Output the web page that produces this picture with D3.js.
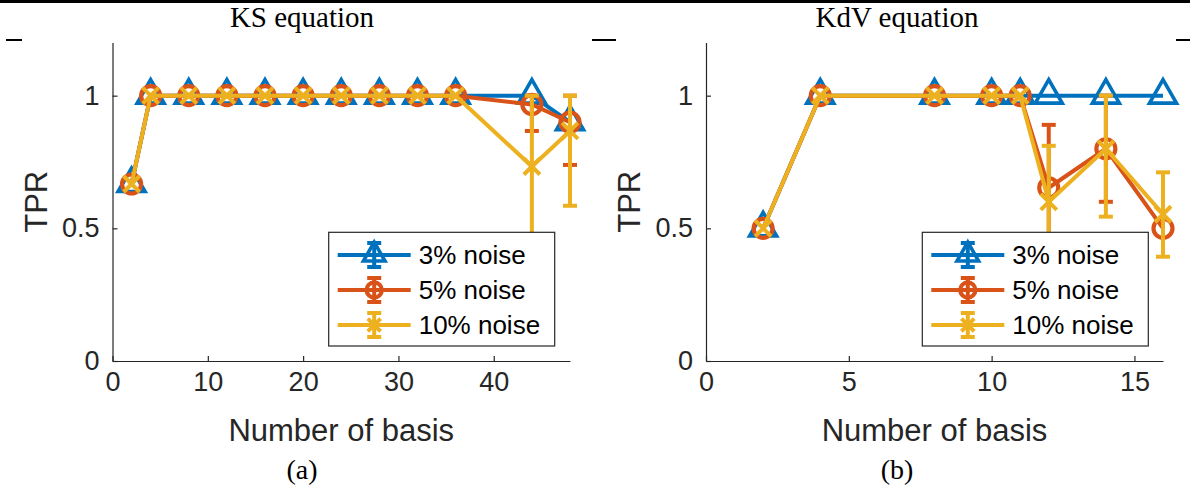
<!DOCTYPE html>
<html>
<head>
<meta charset="utf-8">
<script src="https://cdn.jsdelivr.net/npm/d3@7"></script>
<style>
  body { margin: 0; background: #fff; }
  svg { display: block; }
  .tick-label { font-family: 'Liberation Sans', Arial, Helvetica, sans-serif; font-size: 27px; fill: #262626; }
  .axis-label { font-family: 'Liberation Sans', Arial, Helvetica, sans-serif; font-size: 31px; fill: #262626; }
  .legend-label { font-family: 'Liberation Sans', Arial, Helvetica, sans-serif; font-size: 26px; fill: #000; }
  .serif { font-family: 'Liberation Serif', 'Times New Roman', serif; fill: #000; }
</style>
</head>
<body>
<div id="chart"></div>
<script>
// KS equation panel
const ksBasis = [2, 4, 8, 12, 16, 20, 24, 28, 32, 36, 44, 48];
const ksTpr3 = [0.667, 1, 1, 1, 1, 1, 1, 1, 1, 1, 1, 0.9];
const ksTpr5 = [0.667, 1, 1, 1, 1, 1, 1, 1, 1, 1, 0.967, 0.9];
const ksTpr10 = [0.667, 1, 1, 1, 1, 1, 1, 1, 1, 1, 0.733, 0.867];
const ksLow5 = [0.667, 1, 1, 1, 1, 1, 1, 1, 1, 1, 0.867, 0.739];
const ksHigh5 = [0.667, 1, 1, 1, 1, 1, 1, 1, 1, 1, 1, 1];
const ksLow10 = [0.667, 1, 1, 1, 1, 1, 1, 1, 1, 1, 0.46, 0.585];
const ksHigh10 = [0.667, 1, 1, 1, 1, 1, 1, 1, 1, 1, 1, 1];
const ksTicks = [0, 10, 20, 30, 40];

// KdV equation panel
const kdvBasis = [2, 4, 8, 10, 11, 12, 14, 16];
const kdvTpr3 = [0.5, 1, 1, 1, 1, 1, 1, 1];
const kdvTpr5 = [0.5, 1, 1, 1, 1, 0.653, 0.8, 0.5];
const kdvTpr10 = [0.5, 1, 1, 1, 1, 0.6, 0.8, 0.553];
const kdvLow5 = [0.5, 1, 1, 1, 1, 0.416, 0.6, 0.5];
const kdvHigh5 = [0.5, 1, 1, 1, 1, 0.89, 1, 0.5];
const kdvLow10 = [0.5, 1, 1, 1, 1, 0.389, 0.544, 0.393];
const kdvHigh10 = [0.5, 1, 1, 1, 1, 0.811, 1, 0.711];
const kdvTicks = [0, 5, 10, 15];

const yTicks = [0, 0.5, 1];
const seriesNames = ["3% noise", "5% noise", "10% noise"];
const seriesColors = ["#0072BD", "#D95319", "#EDB120"];
const seriesMarkers = ["triangle", "circle", "cross"];

const width = 1190;
const height = 486;
const axisColor = "#262626";
const lw = 4;

const svg = d3.select("#chart").append("svg")
    .attr("width", width)
    .attr("height", height);

// table rules from the surrounding document
svg.append("rect").attr("x", 0).attr("y", 0).attr("width", width).attr("height", 3).attr("fill", "#000");
[[6, 22], [592, 616], [1176, 1190]].forEach(([a, b]) => {
    svg.append("line").attr("x1", a).attr("x2", b).attr("y1", 40).attr("y2", 40)
        .attr("stroke", "#000").attr("stroke-width", 2);
});

function drawMarker(g, type, color, scale) {
    const s = scale || 1;
    if (type === "triangle") {
        g.append("path")
            .attr("d", `M0,${-16 * s}L${13.5 * s},${7.5 * s}L${-13.5 * s},${7.5 * s}Z`)
            .attr("fill", "none").attr("stroke", color).attr("stroke-width", 3.6)
            .attr("stroke-linejoin", "miter");
    } else if (type === "circle") {
        g.append("circle").attr("r", 9.5 * s)
            .attr("fill", "none").attr("stroke", color).attr("stroke-width", 4.2);
    } else {
        g.append("path")
            .attr("d", `M${-8 * s},${-8 * s}L${8 * s},${8 * s}M${-8 * s},${8 * s}L${8 * s},${-8 * s}`)
            .attr("fill", "none").attr("stroke", color).attr("stroke-width", 4);
    }
}

function drawPanel(p) {
    const x = d3.scaleLinear().domain(p.xDomain).range([p.left, p.right]);
    const y = d3.scaleLinear().domain([0, 1.2]).range([361, 42.6]);
    const g = svg.append("g");

    // axes (left and bottom only, ticks pointing inward)
    const xAxis = g.append("g").attr("transform", `translate(0,${y(0)})`)
        .call(d3.axisBottom(x).tickValues(p.ticks).tickSize(-5).tickPadding(11).tickSizeOuter(0));
    const yAxis = g.append("g").attr("transform", `translate(${x(0)},0)`)
        .call(d3.axisLeft(y).tickValues(yTicks).tickSize(-5).tickPadding(13).tickSizeOuter(0)
            .tickFormat(d => d === 0.5 ? "0.5" : d3.format("d")(d)));
    [xAxis, yAxis].forEach(a => {
        a.select(".domain").attr("stroke", axisColor).attr("stroke-width", 1.2);
        a.selectAll(".tick line").attr("stroke", axisColor).attr("stroke-width", 1.2);
        a.selectAll(".tick text").attr("class", "tick-label").attr("fill", null);
    });
    xAxis.selectAll(".tick text").attr("dy", "0.71em");

    g.append("text").attr("class", "axis-label")
        .attr("x", (p.left + p.right) / 2).attr("y", 441)
        .attr("text-anchor", "middle").text("Number of basis");
    g.append("text").attr("class", "axis-label")
        .attr("transform", `translate(${p.left - 66},${(y(0) + y(1.2)) / 2}) rotate(-90)`)
        .attr("text-anchor", "middle").text("TPR");

    g.append("text").attr("class", "serif").attr("font-size", 29)
        .attr("x", p.center).attr("y", 27).attr("text-anchor", "middle").text(p.title);
    g.append("text").attr("class", "serif").attr("font-size", 28)
        .attr("x", p.center).attr("y", 479).attr("text-anchor", "middle").text(p.caption);

    const line = d3.line().x(d => x(d.b)).y(d => y(d.v));

    p.series.forEach((s, i) => {
        const pts = p.basis.map((b, k) => ({ b, v: s.values[k], lo: s.low ? s.low[k] : s.values[k], hi: s.high ? s.high[k] : s.values[k] }));
        const sg = g.append("g");
        sg.append("path").datum(pts).attr("d", line)
            .attr("fill", "none").attr("stroke", seriesColors[i]).attr("stroke-width", lw)
            .attr("stroke-linejoin", "round");
        // error bars
        pts.filter(d => d.hi - d.lo > 0.001).forEach(d => {
            const eb = sg.append("g").attr("stroke", seriesColors[i]).attr("stroke-width", lw);
            eb.append("line").attr("x1", x(d.b)).attr("x2", x(d.b)).attr("y1", y(d.lo)).attr("y2", y(d.hi));
            [d.lo, d.hi].forEach(v => {
                eb.append("line").attr("x1", x(d.b) - 7).attr("x2", x(d.b) + 7).attr("y1", y(v)).attr("y2", y(v));
            });
        });
        pts.forEach(d => {
            const mg = sg.append("g").attr("transform", `translate(${x(d.b)},${y(d.v)})`);
            drawMarker(mg, seriesMarkers[i], seriesColors[i], 1);
        });
    });

    // legend
    const lx = p.legendX, ly = 232.3;
    const lg = g.append("g");
    lg.append("rect").attr("x", lx).attr("y", ly).attr("width", 226).attr("height", 113.7)
        .attr("fill", "#fff").attr("stroke", axisColor).attr("stroke-width", 1.2);
    seriesNames.forEach((name, i) => {
        const cy = 255 + i * 35;
        const row = lg.append("g");
        row.append("line").attr("x1", lx + 9).attr("x2", lx + 82).attr("y1", cy).attr("y2", cy)
            .attr("stroke", seriesColors[i]).attr("stroke-width", lw);
        const mx = lx + 45.5;
        row.append("line").attr("x1", mx).attr("x2", mx).attr("y1", cy - 12).attr("y2", cy + 12)
            .attr("stroke", seriesColors[i]).attr("stroke-width", lw);
        [cy - 12, cy + 12].forEach(v => {
            row.append("line").attr("x1", mx - 7).attr("x2", mx + 7).attr("y1", v).attr("y2", v)
                .attr("stroke", seriesColors[i]).attr("stroke-width", lw);
        });
        drawMarker(row.append("g").attr("transform", `translate(${mx},${cy})`), seriesMarkers[i], seriesColors[i], 0.8);
        row.append("text").attr("class", "legend-label")
            .attr("x", lx + 90).attr("y", cy + 9.3).text(name);
    });
}

drawPanel({
    title: "KS equation", caption: "(a)", center: 302,
    left: 112.5, right: 570, xDomain: [0, 48], ticks: ksTicks, legendX: 328.7,
    basis: ksBasis,
    series: [
        { values: ksTpr3 },
        { values: ksTpr5, low: ksLow5, high: ksHigh5 },
        { values: ksTpr10, low: ksLow10, high: ksHigh10 }
    ]
});

drawPanel({
    title: "KdV equation", caption: "(b)", center: 897,
    left: 706, right: 1163, xDomain: [0, 16], ticks: kdvTicks, legendX: 922.3,
    basis: kdvBasis,
    series: [
        { values: kdvTpr3 },
        { values: kdvTpr5, low: kdvLow5, high: kdvHigh5 },
        { values: kdvTpr10, low: kdvLow10, high: kdvHigh10 }
    ]
});
</script>
</body>
</html>
